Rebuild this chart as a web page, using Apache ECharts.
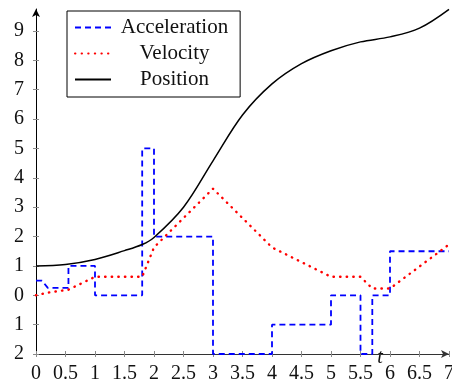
<!DOCTYPE html>
<html>
<head>
<meta charset="utf-8">
<script src="https://cdn.jsdelivr.net/npm/echarts@6/dist/echarts.min.js"></script>
<style>
  html, body { margin: 0; padding: 0; background: #fff; }
  #chart { width: 452px; height: 383px; }
</style>
</head>
<body>
<div id="chart"></div>
<script>
  // acceleration (piecewise constant, drawn as a dashed path)
  var accT = [0, 0.1, 0.2, 0.55, 0.55, 1, 1, 1.8, 1.8, 2, 2, 3, 3, 4, 4, 5, 5, 5.5, 5.5, 5.7, 5.7, 6, 6, 7]
  var accV = [0.5, 0.5, 0.25, 0.25, 1, 1, 0, 0, 5, 5, 2, 2, -2, -2, -1, -1, 0, 0, -2, -2, 0, 0, 1.5, 1.5]

  // velocity (piecewise linear)
  var velT = [0, 0.2, 0.55, 1, 1.8, 2, 3, 4, 5, 5.5, 5.7, 6, 7]
  var velV = [0, 0.09, 0.19, 0.63, 0.63, 1.63, 3.63, 1.63, 0.63, 0.63, 0.23, 0.23, 1.73]

  // position (smooth)
  var posT = [0, 0.5, 1, 1.5, 1.8, 2, 2.5, 3, 3.5, 4, 4.5, 5, 5.5, 6, 6.5, 7]
  var posV = [1, 1.05, 1.22, 1.52, 1.73, 1.97, 3.0, 4.58, 6.14, 7.2, 7.89, 8.33, 8.63, 8.8, 9.1, 9.74]

  var xTicks = [0, 0.5, 1, 1.5, 2, 2.5, 3, 3.5, 4, 4.5, 5, 5.5, 6, 6.5, 7]
  var yTicks = [-2, -1, 0, 1, 2, 3, 4, 5, 6, 7, 8, 9]

  function pairs(xs, ys) {
    return xs.map(function (x, i) { return [x, ys[i]] })
  }

  var serif = 'Liberation Serif'
  var tickColor = '#8a8a8a'

  var chart = echarts.init(document.getElementById('chart'))
  chart.setOption({
    animation: false,
    textStyle: { fontFamily: serif },
    grid: { left: 36, right: 3, top: 9, bottom: 29, outerBoundsMode: 'none' },
    legend: {
      left: 67,
      top: 11,
      orient: 'vertical',
      itemWidth: 36,
      itemHeight: 14,
      itemGap: 5,
      padding: [6, 12, 7, 7],
      borderColor: '#000',
      borderWidth: 1,
      itemStyle: { color: 'rgba(0,0,0,0)', borderWidth: 0 },
      formatter: '{c|{name}}',
      textStyle: {
        fontFamily: serif,
        fontSize: 21,
        color: '#111',
        rich: { c: { width: 117, align: 'center', fontFamily: serif, fontSize: 21 } }
      },
      data: ['Acceleration', 'Velocity', 'Position']
    },
    xAxis: [{
      type: 'value',
      min: 0,
      max: 7,
      interval: 0.5,
      splitLine: { show: false },
      axisLine: { onZero: false, lineStyle: { color: '#333', width: 1 }, symbol: ['none', 'arrow'], symbolSize: [6, 8] },
      axisTick: { length: 3, lineStyle: { color: tickColor }, customValues: xTicks },
      axisLabel: { margin: 10, fontFamily: serif, fontSize: 20, color: '#111', customValues: xTicks }
    }, {
      type: 'value',
      min: 0,
      max: 7,
      position: 'bottom',
      splitLine: { show: false },
      axisLine: { show: false, onZero: false },
      axisLabel: { show: false },
      axisTick: { inside: true, length: 3, lineStyle: { color: tickColor }, customValues: xTicks }
    }],
    yAxis: [{
      type: 'value',
      min: -2,
      max: 9.75,
      splitLine: { show: false },
      axisLine: { show: true, onZero: false, lineStyle: { color: '#000', width: 1 }, symbol: ['none', 'arrow'], symbolSize: [6, 8] },
      axisTick: { show: true, length: 3, lineStyle: { color: tickColor }, customValues: yTicks },
      axisLabel: {
        margin: 12,
        fontFamily: serif,
        fontSize: 20,
        color: '#111',
        customValues: yTicks,
        formatter: function (v) { return String(Math.abs(v)) }
      }
    }, {
      type: 'value',
      min: -2,
      max: 9.75,
      position: 'left',
      splitLine: { show: false },
      axisLine: { show: false, onZero: false },
      axisLabel: { show: false },
      axisTick: { show: true, inside: true, length: 3, lineStyle: { color: tickColor }, customValues: yTicks }
    }],
    graphic: [{
      type: 'text',
      x: 380,
      y: 358,
      style: {
        text: 't',
        font: 'italic 20px "Liberation Serif"',
        fill: '#111',
        align: 'center',
        verticalAlign: 'middle'
      }
    }],
    series: [{
      name: 'Acceleration',
      type: 'line',
      showSymbol: false,
      symbol: 'none',
      clip: false,
      data: pairs(accT, accV),
      itemStyle: { color: '#0000ff' },
      lineStyle: { color: '#0000ff', width: 1.8, type: [6, 4] },
      z: 3
    }, {
      name: 'Velocity',
      type: 'line',
      showSymbol: false,
      symbol: 'none',
      data: pairs(velT, velV),
      itemStyle: { color: '#ff0000' },
      lineStyle: { color: '#ff0000', width: 2.4, type: [0.4, 6.2], cap: 'round' },
      z: 4
    }, {
      name: 'Position',
      type: 'line',
      showSymbol: false,
      symbol: 'none',
      smooth: 0.35,
      clip: false,
      data: pairs(posT, posV),
      itemStyle: { color: '#000' },
      lineStyle: { color: '#000', width: 1.5 },
      z: 5
    }]
  })
</script>
</body>
</html>
